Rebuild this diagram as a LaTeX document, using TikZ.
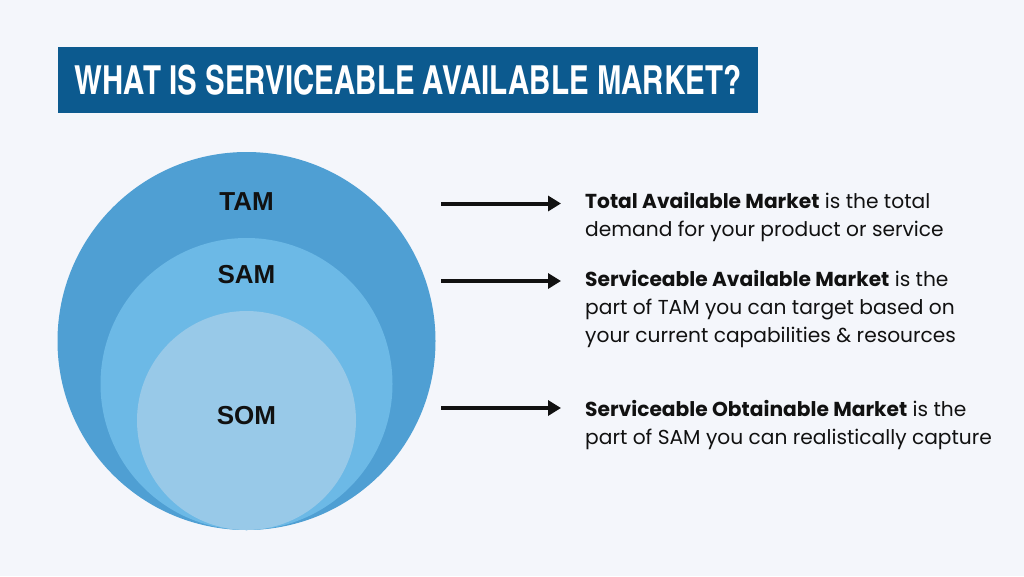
\documentclass[tikz,border=0pt]{standalone}
\usepackage{fontspec}
\setmainfont{Poppins}
\newfontfamily\headfont{texgyreheroscn-bold.otf}[FakeStretch=0.9]
\newfontfamily\ringfont{Liberation Sans}
\usetikzlibrary{arrows.meta}
\definecolor{pagebg}{HTML}{F4F6FB}
\definecolor{bannerblue}{HTML}{0C5A8F}
\definecolor{tamblue}{HTML}{4F9FD3}
\definecolor{samblue}{HTML}{6CB9E6}
\definecolor{somblue}{HTML}{98C9E8}
\definecolor{inkblack}{HTML}{111111}
\begin{document}
\begin{tikzpicture}[
	x=1pt, y=-1pt,
	ring/.style={circle, inner sep=0pt, draw=none},
	ringlabel/.style={font=\ringfont\bfseries\fontsize{26}{26}\selectfont, text=inkblack},
	pointer/.style={-{Triangle[length=13pt, width=15pt]}, line width=4pt, draw=inkblack, shorten >=24pt},
	blurb/.style={anchor=north west, inner sep=0pt, align=left, font=\fontsize{20.2}{28}\selectfont, text=inkblack}
	]
	\useasboundingbox (0,0) rectangle (1024,576);
	\fill[pagebg] (0,0) rectangle (1024,576);
	% banner
	\node[fill=bannerblue, minimum width=700pt, minimum height=66pt, inner sep=0pt,
		text=white, font=\headfont\fontsize{40}{40}\selectfont] (title) at (408,80)
		{WHAT IS SERVICEABLE AVAILABLE MARKET?};
	% nested circles
	\node[ring, fill=tamblue, minimum size=378pt] (tam) at (246.5,341) {};
	\node[ring, fill=samblue, minimum size=292pt] (sam) at (246.5,384) {};
	\node[ring, fill=somblue, minimum size=219pt] (som) at (246.5,420.5) {};
	\node[ringlabel] (tamlabel) at (246.5,202) {TAM};
	\node[ringlabel] (samlabel) at (246.5,275) {SAM};
	\node[ringlabel] (somlabel) at (246.5,416) {SOM};
	% descriptions
	\node[blurb] (tamtext) at (585,192.5)
		{\textbf{Total Available Market} is the total\\demand for your product or service};
	\node[blurb] (samtext) at (585,270.5)
		{\textbf{Serviceable Available Market} is the\\part of TAM you can target based on\\your current capabilities \& resources};
	\node[blurb] (somtext) at (585,400.5)
		{\textbf{Serviceable Obtainable Market} is the\\part of SAM you can realistically capture};
	% arrows
	\coordinate (tamfrom) at (441,203.5);
	\coordinate (samfrom) at (441,281);
	\coordinate (somfrom) at (441,408);
	\draw[pointer] (tamfrom) -- (tamtext.west |- tamfrom);
	\draw[pointer] (samfrom) -- (samtext.west |- samfrom);
	\draw[pointer] (somfrom) -- (somtext.west |- somfrom);
\end{tikzpicture}
\end{document}
